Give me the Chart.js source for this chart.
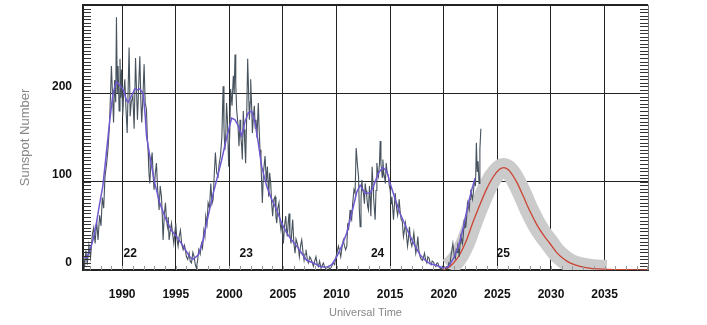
<!DOCTYPE html>
<html>
<head>
<meta charset="utf-8">
<title>Solar Cycle Progression</title>
<script src="https://cdn.jsdelivr.net/npm/chart.js@4.4.0/dist/chart.umd.min.js"></script>
<style>
  html, body { margin: 0; padding: 0; background: #fff; }
  canvas { display: block; }
</style>
</head>
<body>
<canvas id="chart" width="707" height="325"></canvas>
<script>
const monthlyYears = [
  1986.40, 1986.50, 1986.62, 1986.75, 1986.90, 1987.05, 1987.22, 1987.35, 1987.48, 1987.62, 1987.75, 1987.90,
  1988.03, 1988.15, 1988.28, 1988.40, 1988.55, 1988.70, 1988.82, 1988.92, 1989.00, 1989.10, 1989.20, 1989.30,
  1989.40, 1989.47, 1989.55, 1989.62, 1989.72, 1989.80, 1989.88, 1989.95, 1990.05, 1990.15, 1990.25, 1990.35,
  1990.47, 1990.57, 1990.65, 1990.75, 1990.85, 1991.00, 1991.12, 1991.25, 1991.35, 1991.43, 1991.55, 1991.65,
  1991.75, 1991.83, 1991.95, 1992.05, 1992.15, 1992.27, 1992.35, 1992.43, 1992.50, 1992.58, 1992.68, 1992.80,
  1992.90, 1992.98, 1993.10, 1993.20, 1993.32, 1993.45, 1993.55, 1993.67, 1993.75, 1993.82, 1993.93, 1994.04,
  1994.13, 1994.23, 1994.30, 1994.38, 1994.50, 1994.60, 1994.70, 1994.82, 1994.90, 1995.00, 1995.10, 1995.22,
  1995.32, 1995.44, 1995.55, 1995.69, 1995.82, 1996.00, 1996.12, 1996.25, 1996.35, 1996.47, 1996.60, 1996.72,
  1996.82, 1996.93, 1997.05, 1997.15, 1997.28, 1997.40, 1997.50, 1997.62, 1997.72, 1997.80, 1997.92, 1998.02,
  1998.15, 1998.27, 1998.38, 1998.49, 1998.60, 1998.70, 1998.82, 1998.95, 1999.05, 1999.17, 1999.30, 1999.42,
  1999.50, 1999.58, 1999.66, 1999.74, 1999.82, 1999.94, 2000.05, 2000.12, 2000.25, 2000.37, 2000.45, 2000.53,
  2000.60, 2000.68, 2000.80, 2000.90, 2001.00, 2001.06, 2001.15, 2001.21, 2001.30, 2001.37, 2001.45, 2001.52,
  2001.62, 2001.71, 2001.80, 2001.87, 2001.95, 2001.99, 2002.08, 2002.15, 2002.25, 2002.33, 2002.42, 2002.49,
  2002.58, 2002.70, 2002.78, 2002.86, 2002.95, 2003.08, 2003.18, 2003.33, 2003.45, 2003.55, 2003.67, 2003.76,
  2003.86, 2003.95, 2004.04, 2004.15, 2004.26, 2004.35, 2004.42, 2004.52, 2004.63, 2004.72, 2004.82, 2004.92,
  2005.04, 2005.15, 2005.26, 2005.34, 2005.41, 2005.50, 2005.57, 2005.65, 2005.75, 2005.83, 2005.91, 2006.02,
  2006.13, 2006.22, 2006.34, 2006.45, 2006.53, 2006.65, 2006.75, 2006.87, 2006.97, 2007.06, 2007.15, 2007.27,
  2007.37, 2007.50, 2007.59, 2007.72, 2007.84, 2007.96, 2008.08, 2008.20, 2008.30, 2008.42, 2008.55, 2008.66,
  2008.77, 2008.90, 2009.02, 2009.14, 2009.24, 2009.35, 2009.45, 2009.58, 2009.70, 2009.82, 2009.95, 2010.05,
  2010.17, 2010.28, 2010.39, 2010.50, 2010.63, 2010.74, 2010.85, 2010.96, 2011.04, 2011.12, 2011.26, 2011.34,
  2011.41, 2011.50, 2011.63, 2011.73, 2011.83, 2011.94, 2012.05, 2012.12, 2012.20, 2012.28, 2012.36, 2012.44,
  2012.51, 2012.60, 2012.67, 2012.75, 2012.82, 2012.90, 2012.98, 2013.07, 2013.14, 2013.20, 2013.26, 2013.32,
  2013.40, 2013.45, 2013.52, 2013.60, 2013.68, 2013.76, 2013.84, 2013.91, 2014.00, 2014.07, 2014.14, 2014.20,
  2014.26, 2014.32, 2014.40, 2014.47, 2014.55, 2014.63, 2014.72, 2014.84, 2014.92, 2015.00, 2015.08, 2015.16,
  2015.24, 2015.31, 2015.39, 2015.47, 2015.55, 2015.62, 2015.70, 2015.78, 2015.84, 2015.94, 2016.03, 2016.13,
  2016.24, 2016.33, 2016.43, 2016.52, 2016.62, 2016.70, 2016.80, 2016.90, 2017.02, 2017.10, 2017.21, 2017.30,
  2017.39, 2017.48, 2017.58, 2017.68, 2017.80, 2017.90, 2018.02, 2018.10, 2018.20, 2018.30, 2018.42, 2018.52,
  2018.64, 2018.72, 2018.82, 2018.92, 2019.04, 2019.14, 2019.26, 2019.36, 2019.45, 2019.55, 2019.66, 2019.77,
  2019.88, 2019.97, 2020.07, 2020.18, 2020.29, 2020.38, 2020.47, 2020.57, 2020.66, 2020.75, 2020.85, 2020.92,
  2021.00, 2021.08, 2021.16, 2021.24, 2021.31, 2021.38, 2021.44, 2021.52, 2021.59, 2021.67, 2021.75, 2021.83,
  2021.90, 2021.98, 2022.06, 2022.14, 2022.21, 2022.29, 2022.37, 2022.45, 2022.52, 2022.60, 2022.68, 2022.76,
  2022.84, 2022.92, 2022.96, 2023.04, 2023.12, 2023.20, 2023.29, 2023.37, 2023.46
];
const monthlyValues = [
  14, 4, 22, 6, 28, 14, 40, 48, 30, 56, 34, 62,
  50, 82, 70, 106, 120, 140, 165, 200, 231, 200, 167, 215,
  190, 286, 200, 231, 180, 239, 195, 227, 174, 200, 216, 185,
  155, 210, 252, 174, 190, 197, 160, 240, 200, 170, 210, 242,
  190, 167, 200, 233, 189, 182, 150, 133, 110, 98, 120, 133,
  105, 91, 110, 121, 90, 68, 95, 83, 60, 34, 62, 76,
  58, 49, 60, 34, 45, 53, 42, 30, 40, 53, 36, 27,
  38, 45, 30, 23, 28, 15, 12, 19, 10, 8, 20, 15,
  6, 2, 12, 23, 18, 30, 25, 45, 38, 61, 52, 76,
  70, 98, 75, 80, 110, 133, 110, 106, 120, 129, 150, 208,
  160, 136, 150, 189, 170, 117, 160, 205, 186, 220, 200, 244,
  210, 182, 165, 140, 170, 152, 140, 125, 180, 159, 140, 121,
  175, 239, 200, 170, 190, 216, 185, 155, 175, 186, 160, 170,
  150, 189, 160, 136, 120, 76, 110, 129, 100, 117, 83, 110,
  98, 75, 61, 80, 83, 60, 53, 70, 76, 55, 45, 55,
  30, 50, 61, 45, 38, 55, 64, 40, 30, 45, 57, 30,
  19, 35, 30, 24, 15, 28, 34, 20, 11, 18, 23, 12,
  8, 15, 13, 9, 4, 10, 15, 6, 4, 10, 2, 5,
  8, 3, 1, 3, 4, 1, 2, 5, 8, 6, 15, 20,
  27, 22, 15, 25, 34, 27, 23, 27, 53, 45, 68, 60,
  57, 75, 91, 87, 138, 120, 106, 70, 49, 80, 102, 90,
  87, 75, 98, 90, 83, 72, 68, 95, 80, 61, 90, 117,
  95, 83, 70, 57, 90, 121, 110, 106, 120, 146, 120, 114,
  105, 125, 110, 106, 98, 121, 110, 106, 95, 91, 75, 83,
  70, 57, 72, 87, 75, 68, 62, 70, 80, 65, 57, 55,
  38, 45, 53, 40, 27, 35, 49, 33, 27, 32, 42, 30,
  19, 25, 38, 22, 15, 12, 11, 14, 19, 12, 8, 15,
  13, 8, 6, 10, 9, 6, 4, 8, 8, 4, 2, 1,
  4, 2, 1, 3, 4, 2, 8, 6, 15, 22, 30, 22,
  15, 13, 23, 20, 27, 23, 15, 30, 38, 35, 30, 40,
  57, 48, 49, 60, 76, 72, 68, 80, 91, 85, 80, 88,
  98, 100, 95, 144, 111, 123, 98, 137, 160
];

// smoothed sunspot number
const smoothedYears = [
  1986.40, 1986.70, 1987.00, 1987.30, 1987.60, 1987.90, 1988.20, 1988.50, 1988.85, 1989.15, 1989.47, 1989.80,
  1990.15, 1990.40, 1990.56, 1990.87, 1991.18, 1991.45, 1991.65, 1991.96, 1992.15, 1992.27, 1992.58, 1993.05,
  1993.50, 1994.10, 1994.60, 1995.07, 1995.69, 1996.30, 1996.60, 1997.10, 1997.56, 1998.02, 1998.50, 1998.82,
  1999.27, 1999.75, 2000.22, 2000.53, 2000.84, 2001.15, 2001.46, 2001.77, 2002.08, 2002.39, 2002.70, 2003.02,
  2003.48, 2003.95, 2004.42, 2004.88, 2005.35, 2005.81, 2006.28, 2006.75, 2007.21, 2007.84, 2008.46, 2009.08,
  2009.55, 2010.02, 2010.48, 2010.95, 2011.41, 2011.88, 2012.20, 2012.67, 2013.13, 2013.45, 2013.91, 2014.32,
  2014.69, 2015.00, 2015.47, 2015.93, 2016.40, 2016.87, 2017.33, 2017.80, 2018.27, 2018.73, 2019.35, 2019.97,
  2020.44, 2020.91, 2021.37, 2021.84, 2022.30, 2022.61, 2022.92
];
const smoothedValues = [
  15, 14, 22, 35, 53, 75, 95, 129, 170, 200, 213, 209,
  203, 192, 190, 197, 205, 204, 205, 200, 175, 152, 129, 98,
  76, 57, 45, 38, 27, 15, 12, 17, 34, 61, 87, 102,
  124, 150, 172, 170, 163, 152, 168, 178, 180, 167, 144, 117,
  95, 80, 68, 53, 42, 34, 27, 19, 11, 8, 4, 3,
  6, 15, 27, 42, 64, 88, 96, 87, 87, 95, 110, 116,
  112, 98, 80, 64, 51, 38, 27, 17, 11, 7, 5, 2,
  4, 13, 27, 49, 76, 91, 104
];

// predicted cycle 25
const predictedYears = [
  2019.90, 2020.07, 2020.45, 2020.84, 2021.47, 2022.10, 2022.72, 2023.34, 2023.97, 2024.59, 2025.20, 2025.60,
  2026.15, 2026.78, 2027.40, 2028.02, 2028.65, 2029.27, 2029.90, 2030.52, 2031.14, 2031.77, 2032.70, 2033.90,
  2035.20, 2037.00, 2039.05
];
const predictedValues = [
  0, 1, 3, 7, 17, 33, 54, 73, 91, 105, 114, 116,
  112, 100, 84, 67, 52, 40, 30, 20, 13, 8, 4, 1.5,
  0.8, 0.3, 0
];
const bandFrom = 2020.4;
const bandTo = 2035.2;

const yearTicks = [1990, 1995, 2000, 2005, 2010, 2015, 2020, 2025, 2030, 2035];
const valueTicks = [0, 100, 200];
const cycleNames = ['22', '23', '24', '25'];
const cycleYears = [1990.75, 2001.57, 2013.83, 2025.55];
const cycleLabelValue = 19;

const sans = "'Liberation Sans', Arial, sans-serif";

const toPoints = (xs, ys) => xs.map((x, i) => ({ x: x, y: ys[i] }));
const predicted = toPoints(predictedYears, predictedValues);
const band = predicted.filter(p => p.x >= bandFrom && p.x <= bandTo);

// frame, minor ticks and cycle numbers
const decorations = {
  id: 'decorations',
  afterDatasetsDraw(chart) {
    const { ctx, chartArea: a, scales: { x, y } } = chart;
    ctx.save();

    ctx.lineWidth = 1;
    ctx.strokeStyle = '#333';
    ctx.beginPath();
    for (let v = 0; v <= y.max; v += 4) {
      const py = Math.round(y.getPixelForValue(v)) + 0.5;
      ctx.moveTo(a.left, py);
      ctx.lineTo(a.left + 8, py);
      ctx.moveTo(a.right - 8, py);
      ctx.lineTo(a.right, py);
    }
    ctx.stroke();

    ctx.strokeStyle = '#999';
    ctx.beginPath();
    for (let yr = Math.ceil(x.min); yr <= x.max; yr++) {
      const px = Math.round(x.getPixelForValue(yr)) + 0.5;
      ctx.moveTo(px, a.bottom);
      ctx.lineTo(px, a.bottom - 4);
    }
    ctx.stroke();

    ctx.strokeStyle = '#222';
    ctx.lineWidth = 2;
    ctx.beginPath();
    ctx.moveTo(a.left, a.top);
    ctx.lineTo(a.right, a.top);
    ctx.stroke();
    ctx.strokeStyle = '#777';
    ctx.lineWidth = 1;
    ctx.beginPath();
    ctx.moveTo(Math.round(a.right) + 0.5, a.top);
    ctx.lineTo(Math.round(a.right) + 0.5, a.bottom);
    ctx.stroke();

    ctx.fillStyle = '#111';
    ctx.font = 'bold 12px ' + sans;
    ctx.textAlign = 'center';
    ctx.textBaseline = 'middle';
    cycleNames.forEach((name, i) => {
      ctx.fillText(name, x.getPixelForValue(cycleYears[i]), y.getPixelForValue(cycleLabelValue));
    });
    ctx.restore();
  }
};

new Chart(document.getElementById('chart'), {
  type: 'line',
  data: {
    datasets: [
      {
        label: 'Smoothed',
        data: toPoints(smoothedYears, smoothedValues),
        borderColor: '#7058d0',
        borderWidth: 1.5
      },
      {
        label: 'Monthly',
        data: toPoints(monthlyYears, monthlyValues),
        borderColor: '#46525d',
        borderWidth: 1.1
      },
      {
        label: 'Predicted',
        data: predicted,
        borderColor: '#cc4433',
        borderWidth: 1.3,
        cubicInterpolationMode: 'monotone'
      },
      {
        label: 'Range',
        data: band,
        borderColor: '#cbcbcb',
        borderWidth: 19,
        borderJoinStyle: 'round',
        cubicInterpolationMode: 'monotone'
      }
    ]
  },
  options: {
    responsive: false,
    animation: false,
    devicePixelRatio: 1,
    elements: {
      point: { radius: 0 },
      line: { tension: 0 }
    },
    layout: { padding: { left: 0, right: 59, top: 5, bottom: 0 } },
    plugins: {
      legend: { display: false },
      tooltip: { enabled: false }
    },
    scales: {
      x: {
        type: 'linear',
        min: 1986.35,
        max: 2039.05,
        afterBuildTicks: scale => { scale.ticks = yearTicks.map(v => ({ value: v })); },
        afterFit: scale => { scale.height = 55; scale.paddingLeft = 0; scale.paddingRight = 0; },
        grid: { color: '#222', lineWidth: 1, drawTicks: false },
        border: { display: true, color: '#222', width: 2 },
        ticks: {
          padding: 17,
          maxRotation: 0,
          autoSkip: false,
          color: '#111',
          font: { family: sans, size: 12, weight: 'bold' },
          callback: v => String(v)
        },
        title: {
          display: true,
          text: 'Universal Time',
          color: '#888',
          font: { family: sans, size: 11 },
          padding: { top: 0, bottom: 5 }
        }
      },
      y: {
        type: 'linear',
        min: 0,
        max: 300,
        afterBuildTicks: scale => { scale.ticks = valueTicks.map(v => ({ value: v })); },
        afterFit: scale => { scale.width = 83; scale.paddingTop = 0; scale.paddingBottom = 0; },
        grid: { color: '#222', lineWidth: 1, drawTicks: false },
        border: { display: true, color: '#222', width: 2 },
        ticks: {
          padding: 11,
          labelOffset: -7,
          color: '#111',
          font: { family: sans, size: 12, weight: 'bold' },
          callback: v => String(v)
        },
        title: {
          display: true,
          text: 'Sunspot Number',
          color: '#888',
          font: { family: sans, size: 13 },
          padding: { top: 18, bottom: 0 }
        }
      }
    }
  },
  plugins: [decorations]
});
</script>
</body>
</html>
